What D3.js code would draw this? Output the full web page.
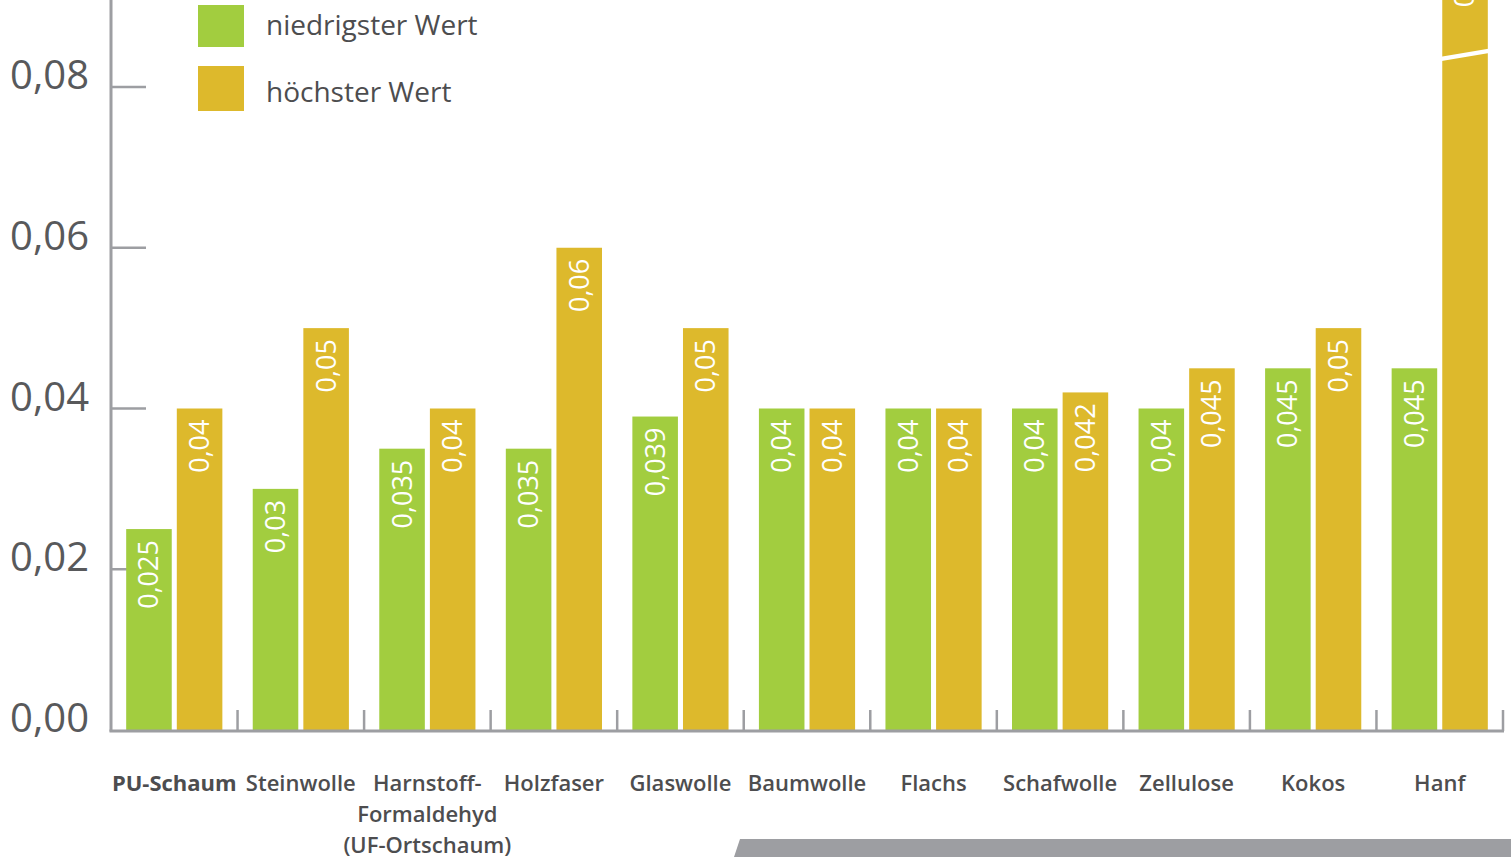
<!DOCTYPE html>
<html lang="de">
<head>
<meta charset="UTF-8" />
<title>Wärmeleitfähigkeit</title>
<script src="https://d3js.org/d3.v7.min.js"></script>
<style>
  html, body { margin: 0; padding: 0; background: #fff; }
  svg { display: block; font-family: "Open Sans", sans-serif; }
  .tick-label { fill: #58595b; font-size: 40px; }
  .legend-label { fill: #4d4d4f; font-size: 28px; }
  .cat-label { fill: #4d4d4f; font-size: 22px; font-weight: 600; }
  .val-label { fill: #fff; font-size: 27px; }
</style>
</head>
<body>
<svg width="1511" height="857"></svg>
<script>
// Data
const categories = ["PU-Schaum", "Steinwolle", "Harnstoff-|Formaldehyd|(UF-Ortschaum)", "Holzfaser", "Glaswolle",
  "Baumwolle", "Flachs", "Schafwolle", "Zellulose", "Kokos", "Hanf"];
const minValues = [0.025, 0.03, 0.035, 0.035, 0.039, 0.04, 0.04, 0.04, 0.04, 0.045, 0.045];
const maxValues = [0.04, 0.05, 0.04, 0.06, 0.05, 0.04, 0.04, 0.042, 0.045, 0.05, 0.1];
const yTicks = [0, 0.02, 0.04, 0.06, 0.08];
const seriesNames = ["niedrigster Wert", "höchster Wert"];

const colors = { min: "#a2cd3f", max: "#ddb92c" };
const gray = "#9d9ea2";
const yTop = 0.08;       // highest labelled tick
const breakCap = 0.096;  // bars above the axis are cut (broken bar)

const svg = d3.select("svg");
const fmt = v => String(v).replace(".", ",");
const fmtTick = d3.format(".2f");

// Scales
const x = d3.scaleBand().domain(categories).range([111, 1503]).padding(0);
const xInner = d3.scaleBand().domain(["min", "max"]).range([0, x.bandwidth()])
  .paddingInner(0.1).paddingOuter(0.3);
const y = d3.scaleLinear().domain([0, yTop]).range([730, 87]);

// Y axis
svg.append("line").attr("x1", 111).attr("x2", 111).attr("y1", 0).attr("y2", 731.5)
  .attr("stroke", gray).attr("stroke-width", 3);
svg.selectAll(".ytick").data(yTicks.slice(1)).enter().append("line")
  .attr("x1", 111).attr("x2", 146)
  .attr("y1", d => y(d)).attr("y2", d => y(d))
  .attr("stroke", gray).attr("stroke-width", 2.5);
svg.selectAll(".tick-label").data(yTicks).enter().append("text")
  .classed("tick-label", true)
  .attr("x", 89).attr("y", d => y(d) - 12).attr("dy", "0.35em")
  .attr("text-anchor", "end")
  .text(d => fmtTick(d).replace(".", ","));

// Bars
const rows = categories.map((c, i) => ({ cat: c, min: minValues[i], max: maxValues[i] }));
const groups = svg.selectAll(".group").data(rows).enter().append("g")
  .attr("transform", d => `translate(${x(d.cat)},0)`);

["min", "max"].forEach(key => {
  groups.append("rect")
    .attr("x", xInner(key)).attr("width", xInner.bandwidth())
    .attr("y", d => y(Math.min(d[key], breakCap)))
    .attr("height", d => y(0) - y(Math.min(d[key], breakCap)))
    .attr("fill", colors[key]);
  groups.append("text").classed("val-label", true)
    .attr("transform", d => `translate(${xInner(key) + xInner.bandwidth() / 2},${y(Math.min(d[key], breakCap)) + 11}) rotate(-90)`)
    .attr("text-anchor", "end").attr("dy", "0.35em")
    .text(d => fmt(d[key]));
});

// break mark on bars above the axis
groups.filter(d => d.max > yTop).append("line")
  .attr("x1", xInner("max") - 1).attr("x2", xInner("max") + xInner.bandwidth() + 1)
  .attr("y1", y(0.084) + 4).attr("y2", y(0.084) - 4)
  .attr("stroke", "#fff").attr("stroke-width", 4.5);

// X axis
svg.append("line").attr("x1", 109.5).attr("x2", 1504).attr("y1", 731).attr("y2", 731)
  .attr("stroke", gray).attr("stroke-width", 3);
svg.selectAll(".xtick").data(categories).enter().append("line")
  .attr("x1", d => x(d) + x.bandwidth()).attr("x2", d => x(d) + x.bandwidth())
  .attr("y1", 710).attr("y2", 731)
  .attr("stroke", gray).attr("stroke-width", 2.5);

const labels = svg.selectAll(".cat-label").data(categories).enter().append("text")
  .classed("cat-label", true)
  .attr("text-anchor", "middle")
  .style("font-weight", (d, i) => i === 0 ? 700 : null)
  .attr("transform", d => `translate(${x(d) + x.bandwidth() / 2},791)`);
labels.selectAll("tspan").data(d => d.split("|")).enter().append("tspan")
  .attr("x", 0).attr("dy", (d, i) => i === 0 ? 0 : 31)
  .text(d => d);

// Legend
const legend = svg.append("g");
seriesNames.forEach((name, i) => {
  legend.append("rect").attr("x", 198).attr("y", [5, 66][i])
    .attr("width", 46).attr("height", [42, 45][i])
    .attr("fill", [colors.min, colors.max][i]);
  legend.append("text").classed("legend-label", true)
    .attr("x", 266).attr("y", [25, 92][i]).attr("dy", "0.35em")
    .text(name);
});

// grey strip at the bottom
svg.append("path").attr("d", "M734,857 L740,839 L1511,839 L1511,857 Z").attr("fill", gray);
</script>
</body>
</html>
